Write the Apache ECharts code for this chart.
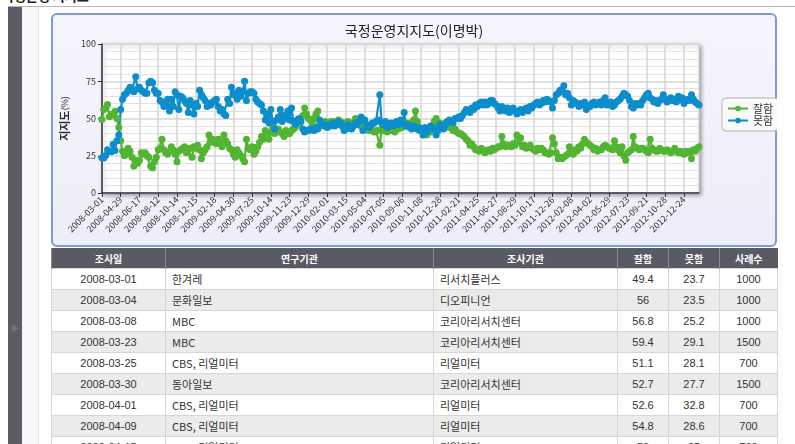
<!DOCTYPE html>
<html>
<head>
<meta charset="utf-8">
<script src="https://cdn.jsdelivr.net/npm/echarts@6/dist/echarts.min.js"></script>
<style>
  html, body { margin: 0; padding: 0; background: #fff; width: 795px; height: 444px; overflow: hidden;
    font-family: "Noto Sans CJK KR", "Noto Sans", sans-serif; }
  #topText { position: absolute; left: 2px; top: -14px; font-size: 13px; font-weight: bold; color: #222; }
  #topLine { position: absolute; left: 8px; top: 6px; width: 787px; height: 1px; background: #b8b8b8; }
  #sideDark { position: absolute; left: 8px; top: 7px; width: 14px; height: 437px; background: #5b5c68; }
  #sideArrow { position: absolute; left: 11px; top: 322px; font-size: 8px; color: #74757f; }
  #sideLight { position: absolute; left: 22px; top: 7px; width: 16px; height: 437px; background: #f7f7f7;
    border-right: 1px solid #e2e2e2; }
  #panel { position: absolute; left: 51px; top: 13px; width: 722px; height: 230px;
    border: 2px solid #7d9ccf; border-radius: 6px;
    background: linear-gradient(#f5f5fd, #eeeefa); }
  #chart { position: absolute; left: 51px; top: 13px; width: 726px; height: 234px; }
  #tbl { position: absolute; left: 51px; top: 248px; width: 726px; border-collapse: collapse;
    font-size: 11px; color: #333; table-layout: fixed; }
  #tbl th { background: #5a5a64; color: #fff; height: 20px; font-weight: bold; padding: 0;
    border-left: 1px solid #8a8a92; font-size: 10px; }
  #tbl td { height: 20px; padding: 0; border: 1px solid #d6d6d6; text-align: center; }
  #tbl td.l { text-align: left; padding-left: 6px; }
  #tbl tr:nth-child(odd) td { background: #ebebeb; }
  #tbl tr:nth-child(even) td { background: #fff; }
  .num { font-family: "Liberation Sans Narrow", "Liberation Sans", sans-serif; }
</style>
</head>
<body>
<div id="topText">국정운영 지지도</div>
<div id="topLine"></div>
<div id="sideDark"></div>
<div id="sideArrow">▶</div>
<div id="sideLight"></div>
<div id="panel"></div>
<div id="chart"></div>
<table id="tbl"></table>
<script>
// survey dates (category axis); every 10th one is labelled
const dates = [
  '2008-03-01','2008-03-04','2008-03-08','2008-03-23','2008-03-25','2008-03-30','2008-04-01','2008-04-09','2008-04-15','2008-04-22',
  '2008-04-29','2008-05-03','2008-05-08','2008-05-13','2008-05-20','2008-05-26','2008-05-31','2008-06-03','2008-06-07','2008-06-11',
  '2008-06-17','2008-06-21','2008-06-24','2008-06-30','2008-07-05','2008-07-09','2008-07-15','2008-07-22','2008-07-29','2008-08-05',
  '2008-08-12','2008-08-18','2008-08-25','2008-08-30','2008-09-06','2008-09-13','2008-09-20','2008-09-27','2008-10-01','2008-10-07',
  '2008-10-14','2008-10-20','2008-10-27','2008-11-01','2008-11-07','2008-11-14','2008-11-22','2008-11-29','2008-12-02','2008-12-08',
  '2008-12-15','2008-12-22','2008-12-29','2009-01-05','2009-01-10','2009-01-17','2009-01-23','2009-01-31','2009-02-06','2009-02-11',
  '2009-02-18','2009-02-25','2009-03-04','2009-03-11','2009-03-18','2009-03-25','2009-03-31','2009-04-07','2009-04-15','2009-04-22',
  '2009-04-30','2009-05-09','2009-05-18','2009-05-27','2009-06-04','2009-06-13','2009-06-22','2009-06-30','2009-07-09','2009-07-17',
  '2009-07-25','2009-08-03','2009-08-11','2009-08-19','2009-08-27','2009-09-04','2009-09-12','2009-09-20','2009-09-28','2009-10-06',
  '2009-10-14','2009-10-17','2009-10-21','2009-10-24','2009-10-28','2009-10-31','2009-11-04','2009-11-09','2009-11-14','2009-11-18',
  '2009-11-23','2009-11-26','2009-11-30','2009-12-03','2009-12-07','2009-12-10','2009-12-14','2009-12-18','2009-12-21','2009-12-24',
  '2009-12-29','2010-01-02','2010-01-05','2010-01-09','2010-01-12','2010-01-16','2010-01-19','2010-01-23','2010-01-26','2010-01-29',
  '2010-02-01','2010-02-05','2010-02-09','2010-02-13','2010-02-18','2010-02-22','2010-02-26','2010-03-02','2010-03-06','2010-03-10',
  '2010-03-15','2010-03-20','2010-03-25','2010-03-30','2010-04-05','2010-04-09','2010-04-14','2010-04-19','2010-04-24','2010-04-29',
  '2010-05-04','2010-05-10','2010-05-17','2010-05-23','2010-05-29','2010-06-04','2010-06-11','2010-06-17','2010-06-23','2010-06-29',
  '2010-07-05','2010-07-12','2010-07-18','2010-07-24','2010-07-31','2010-08-06','2010-08-12','2010-08-19','2010-08-25','2010-08-31',
  '2010-09-06','2010-09-13','2010-09-19','2010-09-25','2010-10-02','2010-10-08','2010-10-14','2010-10-21','2010-10-27','2010-11-02',
  '2010-11-08','2010-11-13','2010-11-18','2010-11-23','2010-11-28','2010-12-03','2010-12-08','2010-12-13','2010-12-18','2010-12-23',
  '2010-12-28','2011-01-03','2011-01-08','2011-01-14','2011-01-19','2011-01-25','2011-01-30','2011-02-05','2011-02-10','2011-02-16',
  '2011-02-21','2011-02-28','2011-03-06','2011-03-12','2011-03-19','2011-03-25','2011-03-31','2011-04-07','2011-04-13','2011-04-19',
  '2011-04-25','2011-05-02','2011-05-08','2011-05-14','2011-05-21','2011-05-27','2011-06-02','2011-06-09','2011-06-15','2011-06-21',
  '2011-06-27','2011-07-04','2011-07-10','2011-07-16','2011-07-23','2011-07-29','2011-08-04','2011-08-11','2011-08-17','2011-08-23',
  '2011-08-29','2011-09-03','2011-09-08','2011-09-13','2011-09-18','2011-09-23','2011-09-28','2011-10-03','2011-10-08','2011-10-12',
  '2011-10-17','2011-10-24','2011-10-31','2011-11-07','2011-11-14','2011-11-21','2011-11-28','2011-12-05','2011-12-12','2011-12-19',
  '2011-12-26','2011-12-30','2012-01-04','2012-01-08','2012-01-13','2012-01-17','2012-01-22','2012-01-26','2012-01-31','2012-02-04',
  '2012-02-08','2012-02-13','2012-02-19','2012-02-24','2012-02-29','2012-03-06','2012-03-11','2012-03-17','2012-03-22','2012-03-28',
  '2012-04-02','2012-04-08','2012-04-13','2012-04-19','2012-04-25','2012-04-30','2012-05-06','2012-05-12','2012-05-17','2012-05-23',
  '2012-05-29','2012-06-03','2012-06-09','2012-06-14','2012-06-20','2012-06-25','2012-07-01','2012-07-06','2012-07-12','2012-07-17',
  '2012-07-23','2012-07-29','2012-08-04','2012-08-10','2012-08-16','2012-08-22','2012-08-28','2012-09-03','2012-09-09','2012-09-15',
  '2012-09-21','2012-09-25','2012-09-28','2012-10-02','2012-10-06','2012-10-10','2012-10-13','2012-10-17','2012-10-21','2012-10-24',
  '2012-10-28','2012-11-03','2012-11-09','2012-11-14','2012-11-20','2012-11-26','2012-12-01','2012-12-07','2012-12-13','2012-12-18',
  '2012-12-24','2012-12-30','2013-01-05','2013-01-11','2013-01-17','2013-01-23','2013-01-29','2013-02-04','2013-02-10'
];

// 잘함 (approve)
const good = [
  49.4, 56, 56.8, 59.4, 51.1, 52.7, 52.6, 54.8, 50, 44,
  35, 28, 25, 26, 30, 28, 24, 18, 22, 20,
  22, 27, 26, 27, 25, 24, 18, 17, 21, 24,
  29, 30, 36, 29, 27, 26, 28, 31, 29, 26,
  21, 28, 29, 30, 31, 27, 29, 30, 24, 31,
  30, 32, 29, 23, 27, 29, 31, 39, 34, 36,
  34, 33, 36, 34, 31, 39, 35, 33, 30, 29,
  26, 24, 29, 27, 25, 23, 21, 36, 30, 29,
  31, 26, 28, 31, 34, 38, 36, 42, 40, 36,
  41, 44, 40, 41, 43, 41, 40, 38, 42, 40,
  40, 42, 43, 44, 46, 47, 50, 52, 57, 53,
  50, 49, 47, 50, 53, 55, 47, 46, 45, 48,
  47, 46, 48, 47, 48, 46, 49, 48, 45, 47,
  46, 48, 47, 47, 46, 50, 48, 47, 45, 45,
  44, 43, 42, 43, 42, 41, 42, 42, 32, 43,
  42, 43, 41, 42, 44, 42, 41, 43, 43, 44,
  44, 46, 45, 47, 45, 44, 49, 55, 48, 42,
  42, 41, 40, 39, 41, 41, 44, 48, 50, 46,
  47, 46, 46, 47, 45, 44, 44, 42, 43, 41,
  40, 40, 39, 38, 36, 35, 32, 33, 31, 29,
  29, 28, 30, 29, 27, 28, 29, 28, 30, 29,
  30, 31, 31, 38, 33, 31, 32, 32, 31, 33,
  32, 39, 34, 37, 31, 32, 30, 31, 32, 30,
  29, 28, 30, 29, 30, 29, 27, 27, 26, 27,
  37, 33, 27, 23, 24, 23, 24, 25, 26, 31,
  27, 26, 29, 28, 31, 30, 33, 36, 34, 33,
  32, 31, 29, 30, 28, 29, 29, 31, 32, 31,
  30, 30, 29, 35, 31, 29, 27, 31, 25, 22,
  27, 28, 29, 38, 31, 30, 29, 30, 30, 29,
  28, 27, 36, 30, 29, 28, 28, 30, 29, 28,
  28, 29, 28, 27, 28, 30, 28, 27, 28, 27,
  26, 28, 27, 28, 23, 29, 28, 30, 31
];

// 못함 (disapprove)
const bad = [
  23.7, 23.5, 25.2, 29.1, 28.1, 27.7, 32.8, 28.6, 35, 39,
  56, 63, 66, 67, 69, 71, 69, 68, 78, 70,
  71, 69, 68, 67, 67, 74, 75, 74, 69, 67,
  67, 62, 61, 58, 59, 63, 55, 63, 58, 68,
  66, 56, 65, 64, 62, 60, 54, 62, 59, 53,
  60, 58, 69, 66, 64, 62, 58, 60, 59, 61,
  62, 63, 58, 55, 56, 53, 52, 63, 60, 71,
  66, 67, 63, 69, 65, 68, 75, 62, 67, 68,
  68, 67, 63, 61, 60, 59, 55, 49, 53, 47,
  56, 48, 43, 49, 51, 56, 48, 52, 50, 55,
  49, 57, 48, 46, 49, 50, 48, 43, 41, 42,
  42, 43, 43, 42, 44, 43, 49, 47, 46, 45,
  44, 46, 45, 47, 45, 46, 48, 47, 45, 42,
  43, 46, 44, 43, 45, 47, 46, 48, 51, 42,
  49, 46, 44, 45, 47, 47, 48, 49, 66, 47,
  46, 48, 44, 46, 47, 45, 47, 48, 46, 49,
  47, 54, 45, 46, 44, 43, 45, 44, 43, 44,
  42, 39, 44, 41, 43, 45, 44, 43, 39, 42,
  46, 44, 43, 46, 48, 49, 48, 47, 50, 50,
  51, 50, 52, 54, 56, 55, 54, 57, 56, 59,
  58, 60, 61, 59, 61, 59, 60, 62, 62, 60,
  59, 57, 55, 58, 57, 55, 57, 54, 55, 57,
  55, 53, 55, 56, 54, 56, 57, 55, 58, 57,
  59, 60, 61, 59, 60, 62, 61, 63, 62, 61,
  57, 62, 66, 67, 69, 68, 72, 66, 67, 64,
  59, 62, 61, 60, 58, 60, 59, 61, 56, 59,
  58, 60, 61, 59, 60, 61, 59, 62, 64, 59,
  60, 61, 58, 59, 61, 62, 63, 65, 67, 66,
  65, 62, 58, 57, 60, 59, 60, 59, 62, 64,
  66, 67, 64, 63, 61, 62, 60, 62, 63, 66,
  63, 61, 62, 64, 62, 63, 61, 65, 63, 64,
  60, 62, 63, 62, 66, 63, 61, 60, 59
];

// table rows (first surveys)
const tableHeaders = ['조사일', '연구기관', '조사기관', '잘함', '못함', '사례수'];
const colWidths = [114, 268, 184, 51, 51, 58];
const sponsors = ['한겨레', '문화일보', 'MBC', 'MBC', 'CBS, 리얼미터', '동아일보', 'CBS, 리얼미터', 'CBS, 리얼미터', 'CBS, 리얼미터'];
const pollsters = ['리서치플러스', '디오피니언', '코리아리서치센터', '코리아리서치센터', '리얼미터', '코리아리서치센터', '리얼미터', '리얼미터', '리얼미터'];
const samples = [1000, 1000, 1000, 1500, 700, 1500, 700, 700, 700];

// table
let html = '<colgroup>' + colWidths.map(w => '<col style="width:' + w + 'px">').join('') + '</colgroup>';
html += '<tr>' + tableHeaders.map(h => '<th>' + h + '</th>').join('') + '</tr>';
for (let i = 0; i < sponsors.length; i++) {
  html += '<tr>' +
    '<td class="num">' + dates[i] + '</td>' +
    '<td class="l">' + sponsors[i] + '</td>' +
    '<td class="l">' + pollsters[i] + '</td>' +
    '<td class="num">' + good[i] + '</td>' +
    '<td class="num">' + bad[i] + '</td>' +
    '<td class="num">' + samples[i] + '</td></tr>';
}
document.getElementById('tbl').innerHTML = html;

const chart = echarts.init(document.getElementById('chart'), null, { renderer: 'canvas' });

const font = '"Noto Sans CJK KR", "Noto Sans", sans-serif';

const option = {
  animation: false,
  textStyle: { fontFamily: font },
  title: {
    text: '국정운영지지도(이명박)',
    left: 'center',
    top: 6,
    textStyle: { fontSize: 14, fontWeight: 'normal', color: '#222', fontFamily: font },
  },
  legend: {
    data: ['잘함', '못함'],
    orient: 'vertical',
    left: 671,
    top: 85,
    backgroundColor: '#fafafa',
    borderColor: '#b4b4b4',
    borderWidth: 1,
    borderRadius: 4,
    padding: [5, 5, 5, 5],
    itemGap: 1,
    itemWidth: 20,
    itemHeight: 7,
    textStyle: { fontSize: 11, color: '#333' },
  },
  grid: {
    show: true,
    left: 49,
    right: 78,
    top: 31,
    bottom: 54,
    backgroundColor: '#fff',
    borderColor: '#cfcfcf',
    borderWidth: 1,
    shadowColor: 'rgba(0,0,0,0.35)',
    shadowBlur: 4,
    shadowOffsetX: 2,
    shadowOffsetY: 2,
  },
  xAxis: {
    type: 'category',
    data: dates,
    boundaryGap: false,
    axisLine: { lineStyle: { color: '#333', width: 1.5 } },
    axisTick: { interval: 9, length: 4, lineStyle: { color: '#333' } },
    axisLabel: {
      interval: 9,
      rotate: 45,
      fontSize: 9,
      color: '#333',
      margin: 5,
    },
    splitLine: { show: true, interval: 9, lineStyle: { color: '#d6d6d6', width: 1.5 } },
  },
  yAxis: {
    type: 'value',
    min: 0,
    max: 100,
    interval: 25,
    name: '{a|지지도}{b|(%)}',
    nameLocation: 'middle',
    nameGap: 28,
    nameRotate: 90,
    nameTextStyle: {
      rich: {
        a: { fontSize: 11, fontWeight: 'bold', color: '#333', fontFamily: font },
        b: { fontSize: 9, color: '#333', fontFamily: font },
      },
    },
    axisLine: { show: true, lineStyle: { color: '#333', width: 1.5 } },
    axisTick: { show: true, length: 4, lineStyle: { color: '#333' } },
    axisLabel: { fontSize: 9, color: '#333', margin: 6 },
    splitLine: { lineStyle: { color: '#d6d6d6', width: 1.5 } },
    minorTick: { show: false, splitNumber: 5 },
    minorSplitLine: { show: true, lineStyle: { color: '#e2e2e2', width: 1.2 } },
  },
  series: [
    {
      name: '잘함',
      type: 'line',
      data: good,
      symbol: 'circle',
      symbolSize: 7,
      showAllSymbol: true,
      itemStyle: { color: '#52b532' },
      lineStyle: { width: 2, shadowColor: 'rgba(0,0,0,0.2)', shadowBlur: 2, shadowOffsetY: 1 },
    },
    {
      name: '못함',
      type: 'line',
      data: bad,
      symbol: 'circle',
      symbolSize: 7,
      showAllSymbol: true,
      itemStyle: { color: '#0c8dcc' },
      lineStyle: { width: 2, shadowColor: 'rgba(0,0,0,0.2)', shadowBlur: 2, shadowOffsetY: 1 },
    },
  ],
};

chart.setOption(option);
</script>
</body>
</html>
